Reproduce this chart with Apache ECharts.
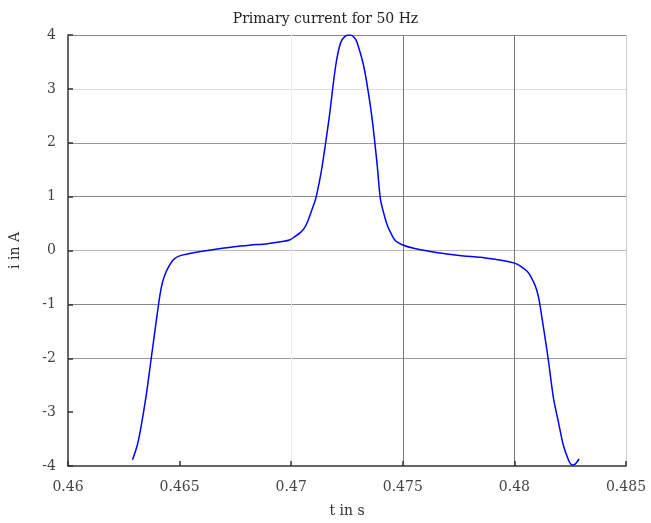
<!DOCTYPE html>
<html>
<head>
<meta charset="utf-8">
<title>Primary current for 50 Hz</title>
<script src="https://cdn.jsdelivr.net/npm/echarts@6/dist/echarts.min.js"></script>
<style>
  html, body { margin: 0; padding: 0; background: #fff; }
  #chart { width: 651px; height: 523px; }
</style>
</head>
<body>
<div id="chart"></div>
<script>
// time in s
const tValues = [
  0.46289, 0.46310, 0.46326, 0.46350, 0.46371, 0.46401, 0.46413, 0.46424,
  0.46435, 0.46446, 0.46460, 0.46475, 0.46500, 0.46535, 0.46595, 0.46669,
  0.46744, 0.46818, 0.46893, 0.46967, 0.46995, 0.47012, 0.47042,
  0.47058, 0.47072, 0.47094, 0.47109, 0.47125, 0.47140, 0.47169, 0.47199,
  0.47221, 0.47242, 0.47263, 0.47284, 0.47296, 0.47325, 0.47345, 0.47363,
  0.47385, 0.47400, 0.47422, 0.47433, 0.47445, 0.47467, 0.47497,
  0.47549, 0.47623, 0.47698, 0.47772, 0.47847, 0.47922, 0.47960, 0.47996,
  0.48020, 0.48041, 0.48058, 0.48071, 0.48093, 0.48108, 0.48123, 0.48151,
  0.48175, 0.48197, 0.48219, 0.48242, 0.48252, 0.48260, 0.48268, 0.48276,
  0.48290
];
// current in A
const iValues = [
  -3.885, -3.62, -3.30, -2.70, -2.06, -1.14, -0.80, -0.58,
  -0.44, -0.34, -0.24, -0.16, -0.10, -0.065, -0.02, 0.028,
  0.07, 0.10, 0.126, 0.17, 0.20, 0.244, 0.336,
  0.41, 0.52, 0.77, 0.95, 1.25, 1.60, 2.43, 3.42,
  3.85, 3.98, 4.0, 3.95, 3.85, 3.42, 2.95, 2.43,
  1.60, 0.95, 0.58, 0.44, 0.336, 0.18, 0.107,
  0.04, -0.02, -0.065, -0.10, -0.126, -0.17, -0.195, -0.23,
  -0.27, -0.33, -0.39, -0.465, -0.65, -0.865, -1.235, -2.0,
  -2.74, -3.18, -3.61, -3.885, -3.96, -3.98, -3.975, -3.95,
  -3.87
];
const xTicks = [0.46, 0.465, 0.47, 0.475, 0.48, 0.485];
const yTicks = [-4, -3, -2, -1, 0, 1, 2, 3, 4];

const font = "DejaVu Serif";
const chart = echarts.init(document.getElementById("chart"));

const option = {
  animation: false,
  title: {
    text: "Primary current for 50 Hz",
    left: "center",
    top: 7,
    textStyle: { fontFamily: font, fontSize: 14, fontWeight: "normal", color: "#222" }
  },
  grid: { left: 67, right: 25, top: 35, bottom: 55 },
  xAxis: {
    type: "value",
    min: xTicks[0],
    max: xTicks[xTicks.length - 1],
    interval: 0.005,
    name: "t in s",
    nameLocation: "middle",
    nameGap: 38,
    nameTextStyle: { fontFamily: font, fontSize: 14, color: "#333" },
    axisLine: { onZero: false, lineStyle: { color: "#333", width: 1.5 } },
    axisTick: { inside: true, length: 5, lineStyle: { color: "#333", width: 1.5 } },
    axisLabel: { fontFamily: font, fontSize: 14, color: "#444", margin: 14,
      formatter: v => String(+v.toFixed(3)) },
    splitLine: { show: true, lineStyle: {
      color: ["#ffffff", "rgba(0,0,0,0)", "#eeeeee", "#777777", "#777777", "#cccccc"] } }
  },
  yAxis: {
    type: "value",
    min: yTicks[0],
    max: yTicks[yTicks.length - 1],
    interval: 1,
    name: "i in A",
    nameLocation: "middle",
    nameGap: 46,
    nameTextStyle: { fontFamily: font, fontSize: 14, color: "#333" },
    axisLine: { onZero: false, lineStyle: { color: "#333", width: 1.5 } },
    axisTick: { inside: true, length: 5, lineStyle: { color: "#333", width: 1.5 } },
    axisLabel: { fontFamily: font, fontSize: 14, color: "#444", margin: 12 },
    splitLine: { show: true, lineStyle: {
      color: ["#ffffff", "rgba(0,0,0,0)", "#999999", "#888888", "#bbbbbb",
              "#888888", "#999999", "#dddddd", "#888888"] } }
  },
  series: [{
    type: "line",
    data: tValues.map((t, k) => [t, iValues[k]]),
    showSymbol: false,
    smooth: 0.3,
    lineStyle: { color: "#0000ff", width: 1.5 }
  }]
};
chart.setOption(option);
</script>
</body>
</html>
